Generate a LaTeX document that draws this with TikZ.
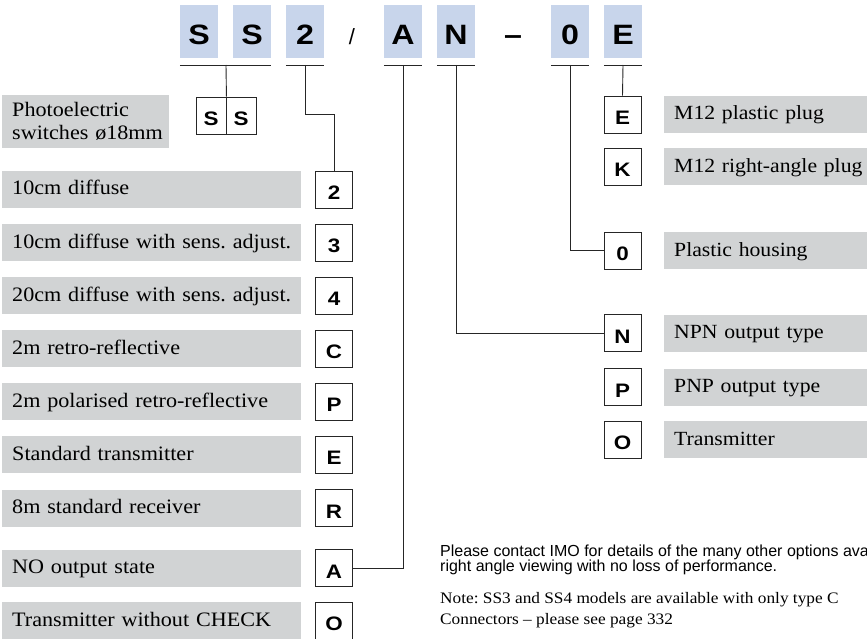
\documentclass[tikz,border=0pt]{standalone}
\usepackage{fontspec}
\setmainfont{Liberation Serif}[FakeStretch=1.08]
\setsansfont{Liberation Sans}
\newfontfamily\codefont{Liberation Sans Bold}[FakeStretch=1.15]
\usetikzlibrary{calc}
\frenchspacing

\definecolor{descgray}{RGB}{209,211,212}
\definecolor{headblue}{RGB}{200,213,235}

\tikzset{
  headbox/.style={fill=headblue, minimum width=38pt, minimum height=53pt,
    inner sep=0pt, text height=27pt, text depth=0pt,
    font=\codefont\fontsize{28}{28}\selectfont},
  codebox/.style={draw=black!85, line width=0.9pt, fill=white,
    minimum width=37pt, minimum height=37pt, inner sep=0pt,
    text height=20pt, text depth=0pt,
    font=\codefont\fontsize{19.5}{20}\selectfont},
  descbase/.style={fill=descgray, anchor=west, inner xsep=10pt,
    inner ysep=0pt, align=left, font=\fontsize{20.5}{23}\selectfont},
  desc/.style={descbase, minimum height=37pt, text height=15pt, text depth=4pt},
  link/.style={line width=0.9pt, draw=black!85},
  infotext/.style={anchor=base west, inner sep=0pt}
}

\begin{document}
\begin{tikzpicture}[x=1pt,y=-1pt]
\clip (0,0) rectangle (867,639);

% type code
\foreach \nm/\x/\t in {hs1/199/S, hs2/252/S, h2/305/2, hA/403/A,
                       hN/456/N, h0/570/0, hE/623/E}
  \node[headbox] (\nm) at (\x,31.5) {\t};
\node[anchor=base, font=\sffamily\fontsize{22}{22}\selectfont] (slash) at (352,45) {/};
\node[anchor=base, font=\codefont\fontsize{28}{28}\selectfont] (dash) at (513,45) {–};

\draw[link] ([yshift=-7pt]hs1.south west) -- ([yshift=-7pt]hs2.south east);
\foreach \nm in {h2,hA,hN,h0,hE}
  \draw[link] ([yshift=-7pt]\nm.south west) -- ([yshift=-7pt]\nm.south east);

\coordinate (uS) at (226,65);
\coordinate (u2) at (305,65);
\coordinate (uA) at (403,65);
\coordinate (uN) at (456,65);
\coordinate (u0) at (570,65);
\coordinate (uE) at (623,65);

% series
\node[descbase, minimum height=53pt, text width=147pt] (photo) at (2,121.5)
  {\mbox{Photoelectric}\\\mbox{switches ø18mm}};
\node[codebox, minimum width=30pt] (ss1) at (211,115.5) {S};
\node[codebox, minimum width=30pt] (ss2) at (241,115.5) {S};

% left column
\foreach \c/\y/\t in {2/189.5/10cm diffuse,
                      3/242.5/10cm diffuse with sens. adjust.,
                      4/295.5/20cm diffuse with sens. adjust.,
                      C/348.5/2m retro-reflective,
                      P/401.5/2m polarised retro-reflective,
                      E/454.5/Standard transmitter,
                      R/508/8m standard receiver,
                      A/568/NO output state,
                      O/620.5/Transmitter without CHECK}
{
  \node[desc, text width=279pt] (ld\c) at (2,\y) {\mbox{\t}};
  \node[codebox] (lb\c) at (334,\y) {\c};
}

% right column
\foreach \c/\y/\t in {E/114.5/M12 plastic plug,
                      K/167/M12 right-angle plug,
                      0/250.5/Plastic housing,
                      N/333/NPN output type,
                      P/387/PNP output type,
                      O/439.5/Transmitter}
{
  \node[desc, text width=250pt, font=\fontsize{20.1}{23}\selectfont] (rd\c) at (664,\y) {\mbox{\t}};
  \node[codebox] (rb\c) at (622.5,\y) {\c};
}

% connectors
\draw[link] (uS) -- (ss1.north east);
\draw[link] (u2) |- (334,114) -- (lb2.north);
\draw[link] (uA) |- (lbA.east);
\draw[link] (uN) |- (rbN.west);
\draw[link] (u0) |- (rb0.west);
\draw[link] (uE) -- (rbE.north);

% notes
\node[infotext, font=\sffamily\fontsize{16}{15}\selectfont] (info1) at (440,556)
  {Please contact IMO for details of the many other options available};
\node[infotext, font=\sffamily\fontsize{16}{15}\selectfont] (info2) at (440,571)
  {right angle viewing with no loss of performance.};
\node[infotext, font=\fontsize{16}{18}\selectfont] (note) at (440,603)
  {Note: SS3 and SS4 models are available with only type C};
\node[infotext, font=\fontsize{16}{18}\selectfont] (conn) at (440,624)
  {Connectors – please see page 332};
\end{tikzpicture}
\end{document}
